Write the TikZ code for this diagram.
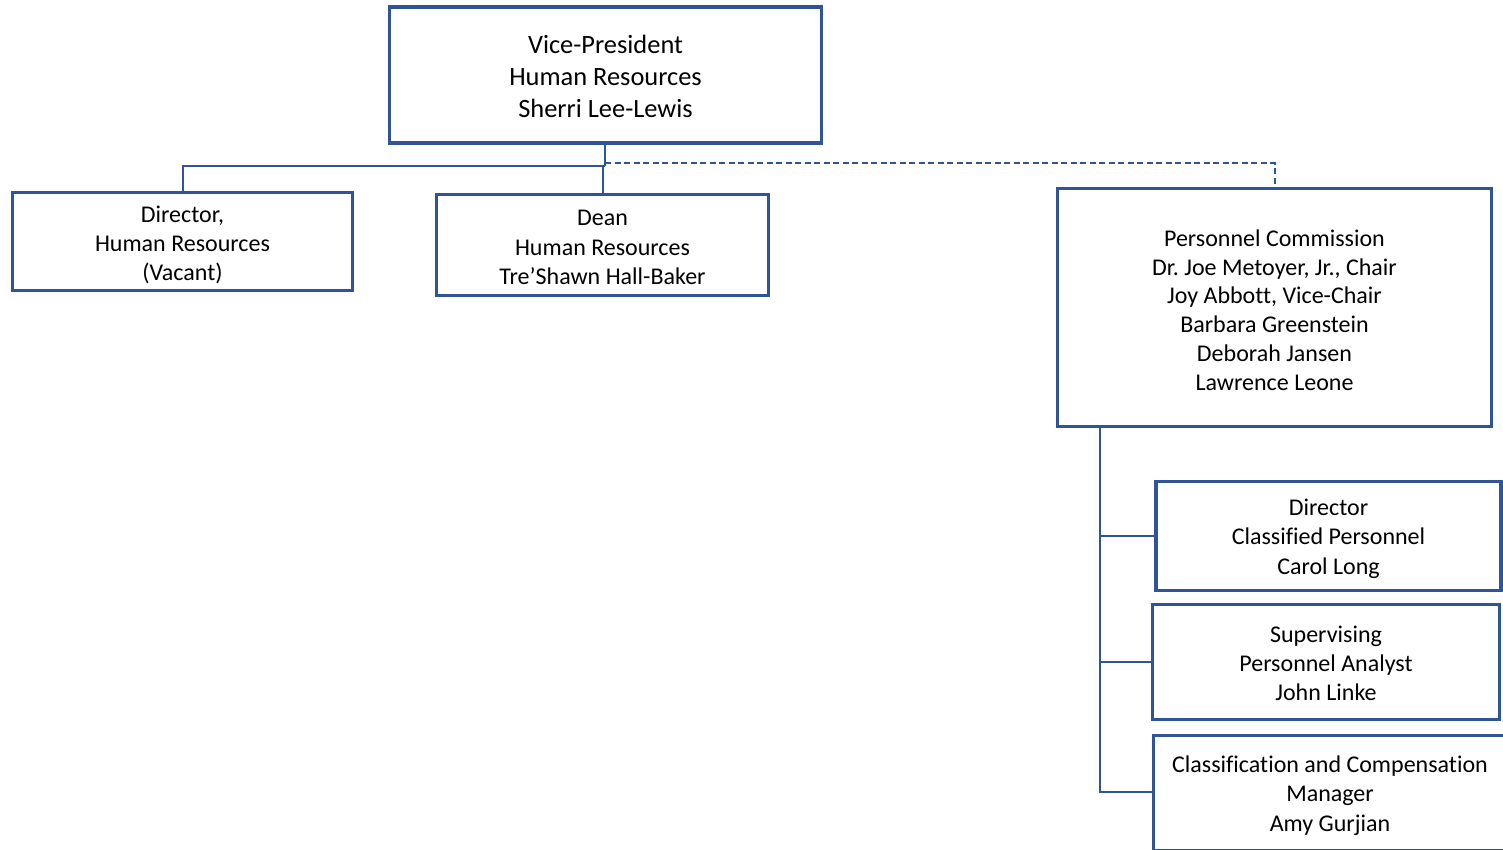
\documentclass[tikz,border=0pt]{standalone}
\usepackage{fontspec}
\setmainfont{Carlito}[Ligatures=NoCommon]
\frenchspacing
\definecolor{orgblue}{RGB}{47,85,151}
\begin{document}
\begin{tikzpicture}[x=1pt,y=-1pt,
  box/.style={draw=orgblue,line width=3.5pt,fill=white,rectangle,inner sep=0pt,outer sep=0pt},
  txt/.style={align=center,inner sep=0pt,yshift=-2.5pt,font=\fontsize{24}{29.3}\selectfont},
  bigtxt/.style={txt,yshift=1.5pt,font=\fontsize{26.4}{32}\selectfont},
  link/.style={draw=orgblue,line width=2pt},
  dlink/.style={link,dash pattern=on 6pt off 3.5pt}]
\useasboundingbox (0,0) rectangle (1503,849);
\node[box,minimum width=432pt,minimum height=136pt,
  label={[bigtxt]center:{Vice-President\\Human Resources\\Sherri Lee-Lewis}}] (vp) at (605.5,75) {};
\node[box,minimum width=340pt,minimum height=98pt,
  label={[txt,yshift=-1pt]center:{Director,\\Human Resources\\(Vacant)}}] (dhr) at (182.5,241.5) {};
\node[box,minimum width=332pt,minimum height=101pt,
  label={[txt]center:{Dean\\Human Resources\\Tre’Shawn Hall-Baker}}] (dean) at (602.5,245) {};
\node[box,minimum width=434pt,minimum height=238pt,
  label={[txt,font=\fontsize{24}{28.8}\selectfont]center:{Personnel Commission\\Dr.\ Joe Metoyer, Jr., Chair\\Joy Abbott, Vice-Chair\\Barbara Greenstein\\Deborah Jansen\\Lawrence Leone}}] (pc) at (1274.5,307.5) {};
\node[box,minimum width=345pt,minimum height=109pt,
  label={[txt]center:{Director\\Classified Personnel\\Carol Long}}] (dcp) at (1328.5,536) {};
\node[box,minimum width=347pt,minimum height=115pt,
  label={[txt,yshift=1pt]center:{Supervising\\Personnel Analyst\\John Linke}}] (spa) at (1326,662) {};
\node[box,minimum width=353pt,minimum height=115pt,
  label={[txt]center:{Classification and Compensation\\Manager\\Amy Gurjian}}] (ccm) at (1330,793) {};
% top connectors
\coordinate (j1) at (605.3,166);
\coordinate (jd) at (602.7,166);
\draw[link] (vp.south -| j1) -- (j1);
\draw[link] (j1) -- (j1 -| dhr.north) -- (dhr.north);
\draw[link] (jd) -- (dean.north -| jd);
\coordinate (j2) at (605.3,163);
\draw[dlink] (j2) -- (j2 -| pc.north) -- (pc.north);
% right connectors
\coordinate (bus) at (1099.5,0);
\coordinate (busend) at (1099.5,791.5);
\draw[link] (pc.south -| bus) -- (busend) -- (busend -| ccm.west);
\draw[link] (bus |- dcp.west) -- (dcp.west);
\draw[link] (bus |- spa.west) -- (spa.west);
\end{tikzpicture}
\end{document}
